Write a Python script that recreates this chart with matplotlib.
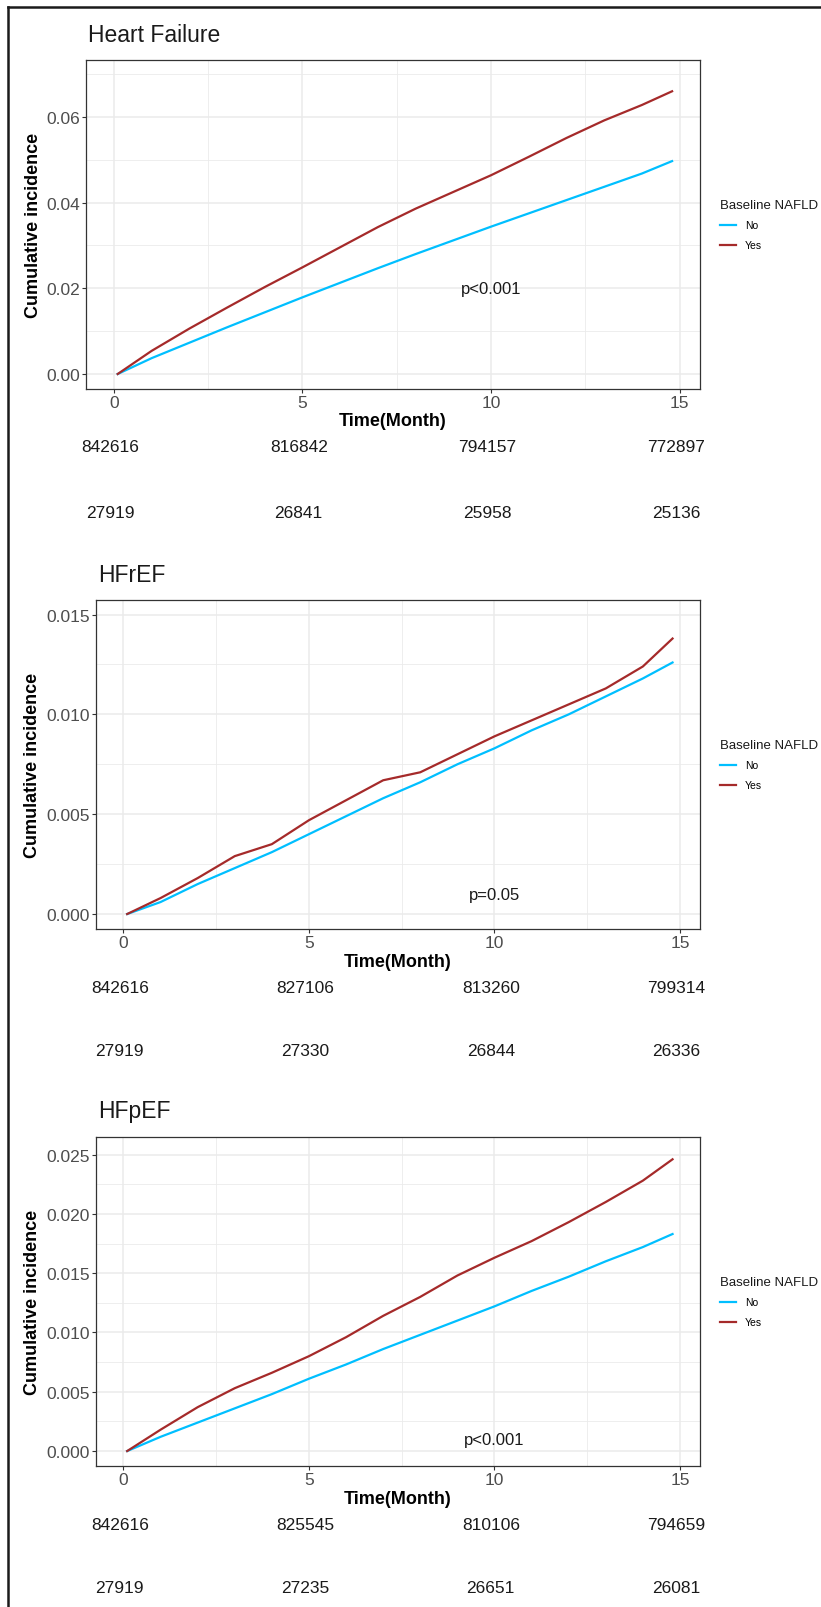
import matplotlib
matplotlib.use('Agg')
import matplotlib.pyplot as plt
import matplotlib.transforms as mtransforms
from matplotlib.lines import Line2D
from matplotlib.ticker import MultipleLocator, FormatStrFormatter

plt.rcParams['font.family'] = ['Liberation Sans', 'DejaVu Sans']

# time grid (months) the curves were read at
months = [0.1, 1, 2, 3, 4, 5, 6, 7, 8, 9, 10, 11, 12, 13, 14, 14.8]

# cumulative incidence
hf_no = [0, 0.0037, 0.0073, 0.0109, 0.0144, 0.0179, 0.0213, 0.0247,
         0.0280, 0.0312, 0.0344, 0.0375, 0.0406, 0.0437, 0.0468, 0.0497]
hf_yes = [0, 0.0054, 0.0106, 0.0155, 0.0203, 0.0249, 0.0296, 0.0343,
          0.0386, 0.0425, 0.0464, 0.0507, 0.0551, 0.0592, 0.0628, 0.0660]
hfref_no = [0, 0.0006, 0.0015, 0.0023, 0.0031, 0.0040, 0.0049, 0.0058,
            0.0066, 0.0075, 0.0083, 0.0092, 0.0100, 0.0109, 0.0118, 0.0126]
hfref_yes = [0, 0.0008, 0.0018, 0.0029, 0.0035, 0.0047, 0.0057, 0.0067,
             0.0071, 0.0080, 0.0089, 0.0097, 0.0105, 0.0113, 0.0124, 0.0138]
hfpef_no = [0, 0.0012, 0.0024, 0.0036, 0.0048, 0.0061, 0.0073, 0.0086,
            0.0098, 0.0110, 0.0122, 0.0135, 0.0147, 0.0160, 0.0172, 0.0183]
hfpef_yes = [0, 0.0018, 0.0037, 0.0053, 0.0066, 0.0080, 0.0096, 0.0114,
             0.0130, 0.0148, 0.0163, 0.0177, 0.0193, 0.0210, 0.0228, 0.0246]

titles = ['Heart Failure', 'HFrEF', 'HFpEF']
p_text = ['p<0.001', 'p=0.05', 'p<0.001']
p_y = [0.02, 0.001, 0.001]

risk_times = [0, 5, 10, 15]
risk_no = [[842616, 816842, 794157, 772897],
           [842616, 827106, 813260, 799314],
           [842616, 825545, 810106, 794659]]
risk_yes = [[27919, 26841, 25958, 25136],
            [27919, 27330, 26844, 26336],
            [27919, 27235, 26651, 26081]]

curves = [(hf_no, hf_yes), (hfref_no, hfref_yes), (hfpef_no, hfpef_yes)]
col_no = '#00BFFF'
col_yes = '#A52A2A'

W, H = 821, 1608
fig = plt.figure(figsize=(W / 100, H / 100), dpi=100)

# pixel boxes: left, right, top, bottom
boxes = [(86, 700, 61, 390), (96, 700, 601, 930), (96, 700, 1138, 1467)]
ylims = [(-0.0035, 0.0733), (-0.00075, 0.01573), (-0.00126, 0.02648)]
ymaj = [0.02, 0.005, 0.005]
yfmt = ['%.2f', '%.3f', '%.3f']
title_y = [35, 575, 1112]
xlab_gap = [31, 33, 33]
row1_y = [448, 989, 1526]
row2_y = [513, 1052, 1589]

for i in range(3):
    l, r, t, b = boxes[i]
    ax = fig.add_axes([l / W, 1 - b / H, (r - l) / W, (b - t) / H])
    no, yes = curves[i]
    ax.plot(months, no, color=col_no, lw=1.6, label='No')
    ax.plot(months, yes, color=col_yes, lw=1.6, label='Yes')
    ax.set_xlim(-0.74, 15.54)
    ax.set_ylim(*ylims[i])
    ax.xaxis.set_major_locator(MultipleLocator(5))
    ax.xaxis.set_minor_locator(MultipleLocator(2.5))
    ax.yaxis.set_major_locator(MultipleLocator(ymaj[i]))
    ax.yaxis.set_minor_locator(MultipleLocator(ymaj[i] / 2))
    ax.yaxis.set_major_formatter(FormatStrFormatter(yfmt[i]))
    ax.set_axisbelow(True)
    ax.grid(which='major', color='#EBEBEB', lw=1.1)
    ax.grid(which='minor', color='#EBEBEB', lw=0.6)
    for s in ax.spines.values():
        s.set_color('#333333')
        s.set_linewidth(0.9)
    ax.tick_params(which='minor', length=0)
    ax.tick_params(which='major', length=3, width=0.8, color='#333333',
                   labelsize=12.5, labelcolor='#4D4D4D', pad=1.5)
    ax.set_xlabel('Time(Month)', fontsize=13, fontweight='bold', color='black')
    ax.xaxis.set_label_coords(0.5, -xlab_gap[i] / (b - t))
    ax.xaxis.label.set_va('center')
    ax.set_ylabel('Cumulative incidence', fontsize=13, fontweight='bold', color='black')
    ax.yaxis.set_label_coords((33 - l) / (r - l), 0.5)
    ax.yaxis.label.set_va('center')
    ax.text(10, p_y[i], p_text[i], fontsize=12, ha='center', va='center', color='#1A1A1A')

    leg = ax.legend(loc='center left', bbox_to_anchor=(1 + 20 / (r - l), 0.5),
                    frameon=False, fontsize=7.5, title='Baseline NAFLD',
                    title_fontsize=9.5, handlelength=1.55, handletextpad=0.85,
                    labelspacing=0.95, borderaxespad=0, borderpad=0)
    leg._legend_box.align = 'left'
    leg.get_title().set_color('#1A1A1A')

    fig.text((l + 2) / W, 1 - title_y[i] / H, titles[i], fontsize=16.5,
             ha='left', va='center', color='#1A1A1A')

    # numbers at risk under each panel
    tr = mtransforms.blended_transform_factory(ax.transData, fig.transFigure)
    for k in range(4):
        ax.text(risk_times[k] - 0.1, 1 - row1_y[i] / H, str(risk_no[i][k]),
                transform=tr, fontsize=12.5, ha='center', va='center', color='#1A1A1A',
                clip_on=False)
        ax.text(risk_times[k] - 0.1, 1 - row2_y[i] / H, str(risk_yes[i][k]),
                transform=tr, fontsize=12.5, ha='center', va='center', color='#1A1A1A',
                clip_on=False)

# outer frame, only left and top edges are visible
fig.add_artist(Line2D([8 / W, 8 / W], [0, 1 - 8 / H], color='#1A1A1A', lw=1.8,
                      transform=fig.transFigure))
fig.add_artist(Line2D([8 / W, 1], [1 - 8 / H, 1 - 8 / H], color='#1A1A1A', lw=1.8,
                      transform=fig.transFigure))

fig.savefig('out.png', dpi=100)
